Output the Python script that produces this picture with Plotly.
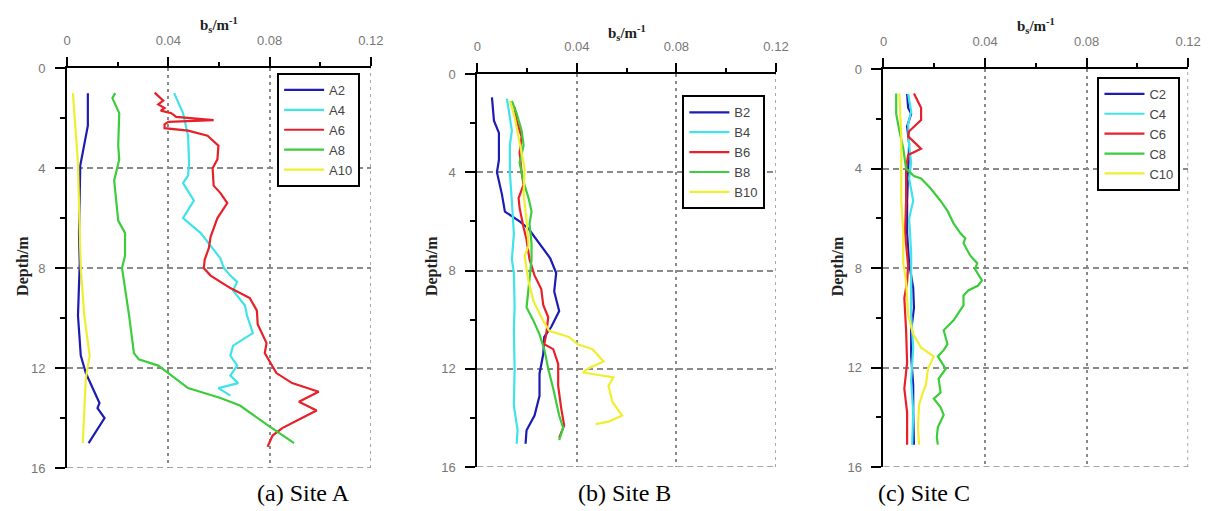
import plotly.graph_objects as go

# ---- Site A: depth (m) and b_s (1/m) profiles ----
depth_A2 = [1.0, 2.3, 3.9, 6.6, 7.8, 9.9, 11.5, 12.2, 13.4, 13.6, 14.0, 15.0]
bs_A2 = [0.0082, 0.0082, 0.0052, 0.0047, 0.0050, 0.0043, 0.0054, 0.0074, 0.0128, 0.0120, 0.0148, 0.0085]

depth_A4 = [1.0, 1.8, 2.7, 3.8, 4.3, 4.6, 5.3, 6.0, 6.6, 7.0, 7.6, 8.0, 8.3, 8.55, 8.9, 9.5, 9.9, 10.6,
            11.1, 11.5, 11.9, 12.3, 12.6, 12.8, 13.1]
bs_A4 = [0.0423, 0.0458, 0.0478, 0.0482, 0.0478, 0.0458, 0.0501, 0.0458, 0.0528, 0.0560, 0.0605, 0.0620,
         0.0645, 0.0672, 0.0656, 0.0703, 0.0711, 0.0734, 0.0656, 0.0645, 0.0672, 0.0645, 0.0676, 0.0598, 0.0645]

depth_A6 = [0.98, 1.3, 1.45, 1.6, 1.7, 1.8, 1.95, 2.08, 2.15, 2.25, 2.4, 2.5, 2.7, 3.1, 3.65, 4.0, 4.7,
            5.0, 5.4, 6.0, 6.75, 7.2, 7.65, 8.0, 8.3, 8.8, 9.2, 9.7, 10.25, 11.0, 11.4, 12.2, 12.6,
            12.95, 13.35, 13.7, 14.0, 14.4, 14.7, 15.15]
bs_A6 = [0.0346, 0.0380, 0.0360, 0.0385, 0.0370, 0.0412, 0.0431, 0.0579, 0.0400, 0.0385, 0.0385, 0.0478,
         0.0555, 0.0598, 0.0594, 0.0575, 0.0579, 0.0606, 0.0633, 0.0594, 0.0567, 0.0560, 0.0544, 0.0540,
         0.0567, 0.0645, 0.0722, 0.0750, 0.0753, 0.0788, 0.0781, 0.0827, 0.0889, 0.0994, 0.0916, 0.0986,
         0.0928, 0.0850, 0.0812, 0.0792]

depth_A8 = [1.0, 1.2, 1.8, 3.1, 3.65, 4.5, 6.1, 6.6, 7.5, 8.0, 9.9, 11.4, 11.65, 11.9, 12.2, 12.8, 13.2,
            13.5, 14.25, 15.0]
bs_A8 = [0.0190, 0.0179, 0.0206, 0.0202, 0.0206, 0.0186, 0.0202, 0.0229, 0.0229, 0.0217, 0.0245, 0.0264,
         0.0283, 0.0360, 0.0400, 0.0478, 0.0606, 0.0683, 0.0788, 0.0897]

depth_A10 = [1.0, 3.8, 6.6, 8.0, 9.9, 11.5, 12.4, 13.7, 15.0]
bs_A10 = [0.0023, 0.0043, 0.0050, 0.0054, 0.0068, 0.0089, 0.0074, 0.0068, 0.0062]

# ---- Site B ----
depth_B2 = [0.95, 1.9, 2.4, 3.5, 4.0, 4.9, 5.6, 5.8, 6.0, 6.3, 6.9, 7.5, 8.1, 8.85, 9.65, 10.3, 10.7,
            11.4, 12.2, 13.1, 13.9, 14.5, 15.05]
bs_B2 = [0.0059, 0.0067, 0.0087, 0.0087, 0.0079, 0.0099, 0.0111, 0.0139, 0.0170, 0.0206, 0.0250, 0.0293,
         0.0317, 0.0309, 0.0329, 0.0297, 0.0269, 0.0265, 0.0250, 0.0250, 0.0230, 0.0198, 0.0194]

depth_B4 = [1.0, 2.3, 2.9, 4.0, 5.2, 6.5, 7.55, 8.1, 9.5, 10.4, 12.0, 13.5, 14.5, 15.05]
bs_B4 = [0.0119, 0.0139, 0.0131, 0.0131, 0.0139, 0.0147, 0.0139, 0.0147, 0.0150, 0.0147, 0.0150, 0.0147,
         0.0162, 0.0158]

depth_B6 = [1.35, 1.9, 2.55, 3.2, 4.0, 4.5, 5.05, 5.45, 6.25, 6.75, 7.55, 8.2, 8.75, 9.4, 9.9, 10.6,
            11.0, 11.2, 11.8, 12.7, 13.6, 14.3, 14.8]
bs_B6 = [0.0150, 0.0158, 0.0178, 0.0170, 0.0178, 0.0186, 0.0166, 0.0170, 0.0186, 0.0198, 0.0210, 0.0230,
         0.0257, 0.0265, 0.0285, 0.0277, 0.0269, 0.0305, 0.0325, 0.0325, 0.0337, 0.0349, 0.0329]

depth_B8 = [1.1, 1.6, 2.3, 2.9, 3.6, 4.4, 5.05, 5.6, 6.1, 6.9, 7.55, 8.45, 9.5, 10.05, 10.6, 11.2, 12.0,
            12.8, 13.9, 14.4, 14.9]
bs_B8 = [0.0139, 0.0158, 0.0178, 0.0186, 0.0170, 0.0186, 0.0206, 0.0218, 0.0210, 0.0218, 0.0218, 0.0210,
         0.0198, 0.0226, 0.0250, 0.0269, 0.0285, 0.0305, 0.0329, 0.0345, 0.0329]

depth_B10 = [1.1, 1.75, 2.8, 3.85, 4.9, 5.95, 7.0, 7.4, 8.45, 9.25, 10.05, 10.45, 10.7, 11.0, 11.2, 11.7,
             12.0, 12.15, 12.35, 12.7, 13.35, 13.9, 14.15, 14.25]
bs_B10 = [0.0131, 0.0150, 0.0170, 0.0190, 0.0186, 0.0198, 0.0206, 0.0190, 0.0206, 0.0226, 0.0265, 0.0289,
          0.0368, 0.0404, 0.0463, 0.0507, 0.0444, 0.0424, 0.0547, 0.0527, 0.0543, 0.0582, 0.0527, 0.0475]

# ---- Site C ----
depth_C2 = [1.0, 1.55, 1.8, 2.3, 3.0, 4.0, 5.3, 6.6, 7.8, 8.8, 9.6, 10.5, 11.55, 12.7, 13.8, 15.1]
bs_C2 = [0.0093, 0.0097, 0.0109, 0.0093, 0.0101, 0.0097, 0.0093, 0.0093, 0.0101, 0.0117, 0.0120, 0.0109,
         0.0109, 0.0117, 0.0117, 0.0120]

depth_C4 = [1.0, 1.7, 2.2, 3.1, 3.75, 4.4, 5.3, 6.0, 7.4, 8.05, 9.9, 11.2, 12.5, 13.8, 15.1]
bs_C4 = [0.0097, 0.0109, 0.0097, 0.0101, 0.0109, 0.0101, 0.0117, 0.0101, 0.0109, 0.0109, 0.0109, 0.0117,
         0.0109, 0.0117, 0.0113]

depth_C6 = [0.98, 1.3, 1.55, 2.05, 2.3, 2.5, 2.7, 3.2, 3.45, 4.0, 5.3, 6.6, 7.9, 8.55, 9.2, 10.5, 11.8,
            12.85, 13.8, 15.1]
bs_C6 = [0.0120, 0.0136, 0.0148, 0.0148, 0.0120, 0.0101, 0.0097, 0.0148, 0.0097, 0.0089, 0.0089, 0.0085,
         0.0097, 0.0093, 0.0082, 0.0089, 0.0093, 0.0082, 0.0093, 0.0093]

depth_C8 = [0.98, 1.8, 2.45, 3.2, 4.0, 4.3, 4.4, 4.8, 5.3, 5.7, 6.2, 6.6, 6.8, 7.0, 7.5, 7.8, 8.05, 8.5,
            8.7, 8.9, 9.1, 9.5, 10.1, 10.5, 11.05, 11.3, 11.55, 12.05, 12.45, 13.0, 13.25, 13.6, 13.9,
            14.4, 14.8, 15.1]
bs_C8 = [0.0050, 0.0050, 0.0062, 0.0078, 0.0089, 0.0120, 0.0148, 0.0186, 0.0225, 0.0252, 0.0276, 0.0303,
         0.0322, 0.0315, 0.0342, 0.0369, 0.0361, 0.0388, 0.0373, 0.0334, 0.0315, 0.0315, 0.0276, 0.0237,
         0.0252, 0.0237, 0.0214, 0.0245, 0.0217, 0.0225, 0.0198, 0.0225, 0.0237, 0.0214, 0.0210, 0.0214]

depth_C10 = [0.98, 2.7, 4.0, 5.3, 6.6, 7.8, 8.55, 9.9, 10.65, 11.2, 11.55, 12.05, 12.7, 13.0, 13.5, 14.4,
             15.1]
bs_C10 = [0.0062, 0.0070, 0.0070, 0.0070, 0.0078, 0.0078, 0.0089, 0.0097, 0.0117, 0.0148, 0.0198, 0.0175,
          0.0167, 0.0155, 0.0140, 0.0136, 0.0140]

# ---- axis ticks ----
x_ticks = [0, 0.04, 0.08, 0.12]
x_tick_text = ["0", "0.04", "0.08", "0.12"]
x_minor = [0.02, 0.06, 0.10]
y_ticks = [0, 4, 8, 12, 16]
y_tick_text = ["0", "4", "8", "12", "16"]
y_minor = [2, 6, 10, 14]

COLORS = ["#1c1cb4", "#3fe3ea", "#e8202a", "#3ccc3c", "#f0ee30"]
GRID = "#8a8a8a"
X_DASH = "3px,4px"
Y_DASH = "6px,4px"

W, H = 1213, 511

sites = [
    ("A", [("A2", depth_A2, bs_A2), ("A4", depth_A4, bs_A4), ("A6", depth_A6, bs_A6),
           ("A8", depth_A8, bs_A8), ("A10", depth_A10, bs_A10)]),
    ("B", [("B2", depth_B2, bs_B2), ("B4", depth_B4, bs_B4), ("B6", depth_B6, bs_B6),
           ("B8", depth_B8, bs_B8), ("B10", depth_B10, bs_B10)]),
    ("C", [("C2", depth_C2, bs_C2), ("C4", depth_C4, bs_C4), ("C6", depth_C6, bs_C6),
           ("C8", depth_C8, bs_C8), ("C10", depth_C10, bs_C10)]),
]

# panel boxes in pixels: (left, right, top, bottom)
boxes = [(64, 372, 63, 475), (480, 783, 69, 474), (892, 1201, 64, 474)]
legend_pos = [(277, 68), (688, 91), (1109, 72)]
title_y = [19, 27, 20]
captions = ["(a) Site A", "(b) Site B", "(c) Site C"]
caption_x = [304, 629, 933]
depth_title_x = [19, 434, 846]

fig = go.Figure()
annotations = []
shapes = []
layout_axes = {}

for i, (site, series) in enumerate(sites):
    n = "" if i == 0 else str(i + 1)
    legend_name = "legend" + n
    for (name, d, v), col in zip(series, COLORS):
        fig.add_trace(go.Scatter(
            x=v, y=d, mode="lines", name=name,
            line=dict(color=col, width=2.2),
            xaxis="x" + n, yaxis="y" + n, legend=legend_name,
        ))
    l, r, t, b = boxes[i]
    tickfont = dict(family="Arial", size=13, color="#777")
    layout_axes["xaxis" + n] = dict(
        domain=[l / W, r / W], anchor="y" + n, side="top",
        range=[0, 0.12], tickmode="array", tickvals=x_ticks, ticktext=x_tick_text,
        ticks="outside", ticklen=9, tickwidth=1.5, tickcolor="black",
        showline=True, linecolor="black", linewidth=2,
        showgrid=True, gridcolor=GRID, gridwidth=1.5, griddash=X_DASH,
        zeroline=False, tickfont=tickfont, ticklabelstandoff=7,
        minor=dict(tickvals=x_minor, ticks="outside", ticklen=4, tickwidth=1.5,
                   tickcolor="black", showgrid=False),
    )
    layout_axes["yaxis" + n] = dict(
        domain=[1 - b / H, 1 - t / H], anchor="x" + n,
        range=[16, 0], tickmode="array", tickvals=y_ticks, ticktext=y_tick_text,
        ticks="outside", ticklen=10, tickwidth=1.5, tickcolor="black",
        showline=True, linecolor="black", linewidth=2,
        showgrid=True, gridcolor=GRID, gridwidth=1.5, griddash=Y_DASH,
        zeroline=False, tickfont=tickfont, ticklabelstandoff=7,
        minor=dict(tickvals=y_minor, ticks="outside", ticklen=5, tickwidth=1.5,
                   tickcolor="black", showgrid=False),
    )
    # grid lines on the far edges (right and bottom) of each panel
    shapes.append(dict(type="line", xref="x" + n, yref="y" + n + " domain",
                       x0=x_ticks[-1], x1=x_ticks[-1], y0=0, y1=1, layer="below",
                       line=dict(color=GRID, width=1.5, dash=X_DASH)))
    shapes.append(dict(type="line", xref="x" + n + " domain", yref="y" + n,
                       x0=0, x1=1, y0=y_ticks[-1], y1=y_ticks[-1], layer="below",
                       line=dict(color=GRID, width=1.5, dash=Y_DASH)))
    lx, ly = legend_pos[i]
    layout_axes[legend_name] = dict(
        x=lx / W, y=1 - ly / H, xanchor="left", yanchor="top",
        bgcolor="white", bordercolor="black", borderwidth=2,
        font=dict(family="Arial", size=13, color="#444"), tracegroupgap=0,
        itemwidth=40,
    )
    # top axis title
    annotations.append(dict(
        x=(l + r) / 2 / W, y=1 - title_y[i] / H, xref="paper", yref="paper",
        text="<b>b<sub>s</sub>/m<sup>-1</sup></b>", showarrow=False,
        font=dict(family="Liberation Serif", size=15, color="#222"),
        xanchor="center", yanchor="middle",
    ))
    # depth title
    annotations.append(dict(
        x=depth_title_x[i] / W, y=1 - 267 / H, xref="paper", yref="paper",
        text="<b>Depth/m</b>", textangle=-90, showarrow=False,
        font=dict(family="Liberation Serif", size=16, color="#222"),
        xanchor="center", yanchor="middle",
    ))
    # panel caption
    annotations.append(dict(
        x=caption_x[i] / W, y=1 - 501 / H, xref="paper", yref="paper",
        text=captions[i], showarrow=False,
        font=dict(family="Liberation Serif", size=24, color="black"),
        xanchor="center", yanchor="middle",
    ))

fig.update_layout(
    width=W, height=H, margin=dict(l=0, r=0, t=0, b=0),
    paper_bgcolor="white", plot_bgcolor="white",
    annotations=annotations, shapes=shapes, showlegend=True,
    **layout_axes,
)

fig.write_html("out.html")
